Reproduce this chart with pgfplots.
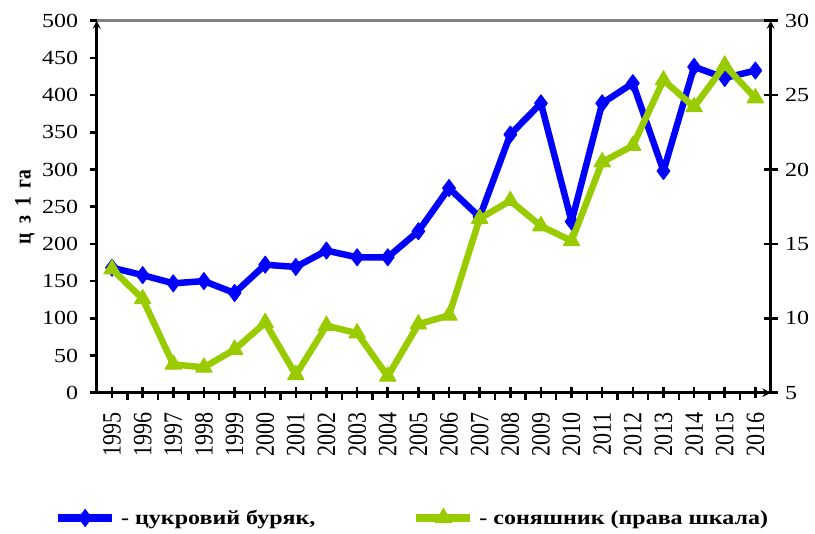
\documentclass[border=0pt]{standalone}
\usepackage{pgfplots}
\pgfplotsset{compat=1.18}
\usepackage{fontspec}
\setmainfont[FakeStretch=1.2]{Liberation Serif}
\newfontfamily\rotfont[FakeStretch=0.8333]{Liberation Serif}
\definecolor{cblue}{RGB}{0,0,255}
\definecolor{cgreen}{RGB}{153,204,0}
\pgfplotsset{
  base/.style={
    scale only axis, width=674pt, height=372pt,
    at={(96.7pt,141.3pt)}, anchor=south west,
    xmin=-0.5, xmax=21.5,
    axis line style={-, line width=2.5pt, black},
    tick style={black, line width=2.5pt},
    tick label style={font=\fontsize{20}{24}\selectfont},
    /pgf/number format/assume math mode=true,
    clip=false,
  },
  blueline/.style={cblue, line width=6.5pt, line join=round, mark=diamond*, mark size=8.5pt, mark options={solid, line width=1pt, fill=cblue, draw=cblue}},
  greenline/.style={cgreen, line width=6.5pt, line join=round, mark=triangle*, mark size=9.5pt, mark options={solid, line width=1pt, fill=cgreen, draw=cgreen}},
}
\begin{document}
\begin{tikzpicture}
% x axis with year labels, blue series (left scale)
\begin{axis}[base,
  axis x line=bottom, axis y line=none,
  ymin=0, ymax=500,
  xtick={0,...,21},
  xticklabels={1995,1996,1997,1998,1999,2000,2001,2002,2003,2004,2005,2006,2007,2008,2009,2010,2011,2012,2013,2014,2015,2016},
  tick align=center, major tick length=11pt,
  xticklabel shift=11pt,
  xticklabel style={rotate=90, anchor=east, font=\rotfont\fontsize{26.4}{30}\selectfont},
]
\draw[black!50, line width=2.5pt] (rel axis cs:0,1) -- (rel axis cs:1,1);
\addplot[blueline] coordinates {
(0,168) (1,158) (2,147) (3,150) (4,134) (5,172) (6,169) (7,191) (8,182) (9,182) (10,217)
(11,275) (12,236) (13,347) (14,389) (15,230) (16,389) (17,416) (18,298) (19,438) (20,423) (21,433)};
\end{axis}
% left y axis and boundary ticks
\begin{axis}[base,
  axis x line=bottom, axis y line=left,
  ymin=0, ymax=500, ytick={0,50,...,500},
  xtick={0.5,1.5,...,20.5}, xticklabels={},
  tick align=outside, major tick length=7pt,
  yticklabel style={xshift=-8pt},
  ylabel={\rotfont\bfseries\fontsize{23.5}{26}\selectfont ц\hspace{9pt}з\hspace{9pt}1\hspace{9pt}га},
  every axis y label/.style={at={(rel axis cs:-0.1064,0.5)}, rotate=90, anchor=center},
]
\end{axis}
% right y axis, green series (right scale), legend
\begin{axis}[base,
  axis x line=none, axis y line=right,
  ymin=5, ymax=30, ytick={5,10,...,30},
  tick align=center, major tick length=14pt,
  yticklabel style={xshift=4pt},
  legend columns=2,
  legend image code/.code={\draw[mark repeat=2,mark phase=2,#1,line width=8pt] plot coordinates {(0pt,0pt) (27pt,0pt) (54pt,0pt)};},
  legend style={at={(-0.0634,-0.3368)}, anchor=west, draw=none, fill=none, inner sep=0pt,
    font=\bfseries\fontsize{20}{24}\selectfont,
    /tikz/every even column/.append style={column sep=95pt}},
]
\addlegendimage{blueline}
\addlegendentry{\hspace{3pt}- цукровий буряк,}
\addplot[greenline] coordinates {
(0,13.3) (1,11.3) (2,6.9) (3,6.7) (4,7.9) (5,9.7) (6,6.2) (7,9.5) (8,9.0) (9,6.1) (10,9.6)
(11,10.2) (12,16.7) (13,17.9) (14,16.2) (15,15.2) (16,20.5) (17,21.6) (18,26.0) (19,24.2) (20,27.0) (21,24.8)};
\addlegendentry{\hspace{3pt}- соняшник (права шкала)}
\end{axis}
\pgfresetboundingbox
\useasboundingbox (0pt,0pt) rectangle (815pt,534pt);
\end{tikzpicture}
\end{document}
